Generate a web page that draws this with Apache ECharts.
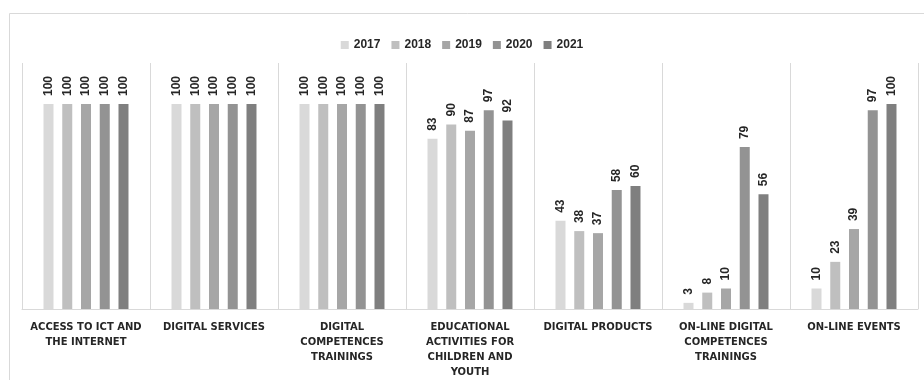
<!DOCTYPE html>
<html>
<head>
<meta charset="utf-8">
<script src="https://cdn.jsdelivr.net/npm/echarts@6/dist/echarts.min.js"></script>
<style>
  html, body { margin: 0; padding: 0; background: #fff; }
  #main { width: 924px; height: 380px; }
</style>
</head>
<body>
<div id="main"></div>
<script>
// categories (line breaks as in the reference)
var categories = [
  'ACCESS TO ICT AND\nTHE INTERNET',
  'DIGITAL SERVICES',
  'DIGITAL\nCOMPETENCES\nTRAININGS',
  'EDUCATIONAL\nACTIVITIES FOR\nCHILDREN AND\nYOUTH',
  'DIGITAL PRODUCTS',
  'ON-LINE DIGITAL\nCOMPETENCES\nTRAININGS',
  'ON-LINE EVENTS'
];
var years = ['2017', '2018', '2019', '2020', '2021'];
var v2017 = [100, 100, 100, 83, 43, 3, 10];
var v2018 = [100, 100, 100, 90, 38, 8, 23];
var v2019 = [100, 100, 100, 87, 37, 10, 39];
var v2020 = [100, 100, 100, 97, 58, 79, 97];
var v2021 = [100, 100, 100, 92, 60, 56, 100];
var colors = ['#d9d9d9', '#bfbfbf', '#a6a6a6', '#939393', '#7f7f7f'];

var values = [v2017, v2018, v2019, v2020, v2021];

var myChart = echarts.init(document.getElementById('main'));
myChart.setOption({
  animation: false,
  color: colors,
  graphic: [{
    type: 'rect',
    left: 7, top: 11,
    shape: { width: 940, height: 400 },
    style: { fill: 'none', stroke: '#d9d9d9', lineWidth: 1 },
    silent: true
  }],
  legend: {
    top: 34,
    left: 'center',
    itemWidth: 8,
    itemHeight: 8,
    itemGap: 11,
    icon: 'rect',
    textStyle: { fontFamily: 'Liberation Sans', fontWeight: 'bold', fontSize: 12, color: '#262626' },
    data: years
  },
  grid: { left: 22, right: 6, top: 63, bottom: 69 },
  xAxis: {
    type: 'category',
    data: categories,
    axisTick: { show: false },
    axisLine: { lineStyle: { color: '#d9d9d9' } },
    splitLine: { show: true, interval: 0, lineStyle: { color: '#d9d9d9' } },
    axisLabel: {
      interval: 0,
      margin: 11,
      fontFamily: 'DejaVu Sans',
      fontWeight: 'bold',
      fontSize: 10,
      lineHeight: 15,
      color: '#262626',
      align: 'center',
      verticalAlign: 'top'
    }
  },
  yAxis: {
    type: 'value',
    min: 0, max: 120,
    show: false,
    splitLine: { show: false }
  },
  series: years.map(function (y, i) {
    return {
      name: y,
      type: 'bar',
      data: values[i],
      barGap: '87.5%',
      barCategoryGap: '33.6%',
      label: {
        show: true,
        position: 'top',
        rotate: 90,
        align: 'left',
        verticalAlign: 'middle',
        distance: 8,
        fontFamily: 'Liberation Sans',
        fontWeight: 'bold',
        fontSize: 12,
        color: '#262626'
      }
    };
  })
});
</script>
</body>
</html>
